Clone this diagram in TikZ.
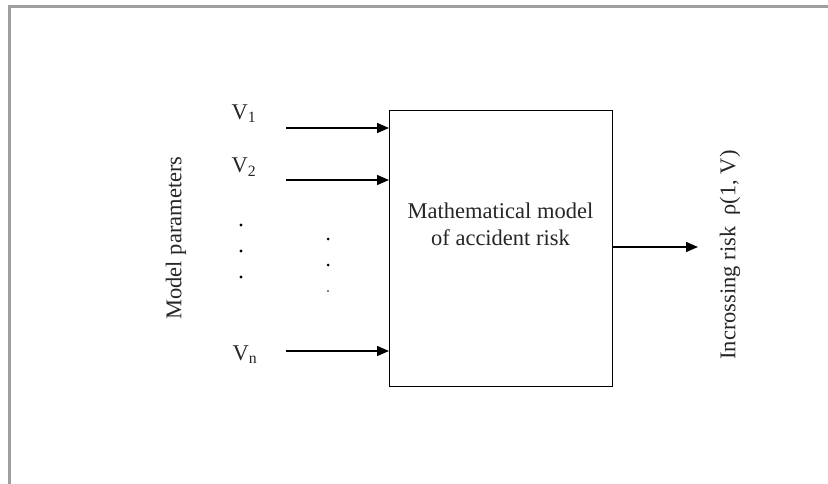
\documentclass[tikz,border=0pt]{standalone}
\usepackage{fontspec}
\setmainfont{Liberation Serif}
\usetikzlibrary{arrows.meta}
\begin{document}
\begin{tikzpicture}[x=1pt,y=-1pt,
  lbl/.style={text=black!85, font=\fontsize{22.5}{27}\selectfont, inner sep=0pt},
  arr/.style={line width=1.5pt, -{Triangle[length=12pt,width=10pt]}},
  dotm/.style={fill=black, draw=none}]
\useasboundingbox (0,0) rectangle (828,484);
\draw[gray!75, line width=2.2pt] (9.5,484) -- (9.5,6.5) -- (828,6.5);
% main box
\node[draw, line width=1pt, minimum width=223pt, minimum height=276pt,
      anchor=north west, inner sep=0pt] (box) at (389,110) {};
\node[lbl, align=center] (txt) at (500.5,224) {Mathematical model\\of accident risk};
% inputs
\coordinate (s1) at (286,128);
\coordinate (s2) at (286,180);
\coordinate (sn) at (286,351);
\draw[arr] (s1) -- (box.west |- s1);
\draw[arr] (s2) -- (box.west |- s2);
\draw[arr] (sn) -- (box.west |- sn);
\node[lbl] (v1) at (244,114) {V\textsubscript{1}};
\node[lbl] (v2) at (244,167) {V\textsubscript{2}};
\node[lbl] (vn) at (245,355) {V\textsubscript{n}};
% dots
\fill[dotm] (241,225) circle (1.6pt);
\fill[dotm] (241,251) circle (1.6pt);
\fill[dotm] (241,277) circle (1.6pt);
\fill[dotm] (328,239) circle (1.5pt);
\fill[dotm] (328,265) circle (1.5pt);
\fill[dotm] (328,291) circle (0.9pt);
% output
\coordinate (o) at (698,247);
\draw[arr] (box.east |- o) -- (o);
% rotated labels
\node[lbl, rotate=90] (mp) at (176,238) {Model parameters};
\node[lbl, rotate=90] (ir) at (730,255) {Incrossing risk\ \ ρ(1, V)};
\end{tikzpicture}
\end{document}
